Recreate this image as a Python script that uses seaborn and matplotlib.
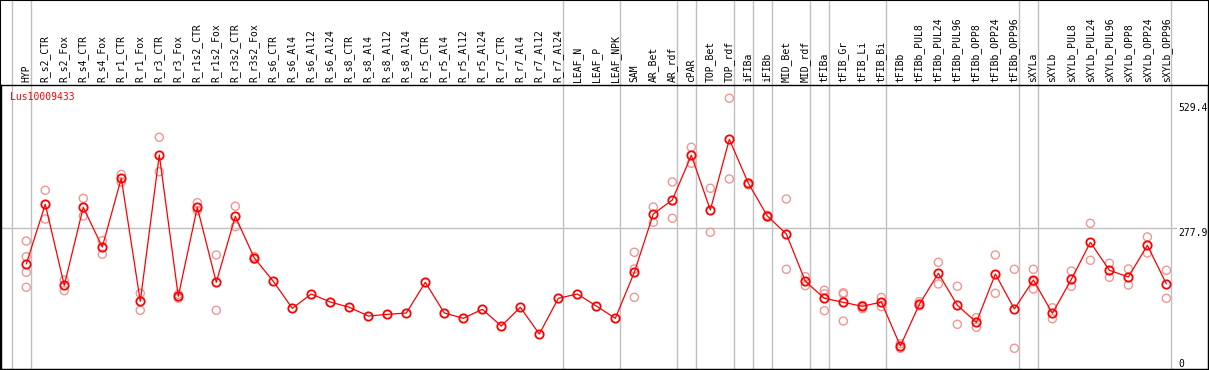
import matplotlib
matplotlib.use("Agg")
import matplotlib.pyplot as plt
from matplotlib.patches import Rectangle
from matplotlib.transforms import blended_transform_factory
import numpy as np
import pandas as pd
import seaborn as sns

gene = 'Lus10009433'

samples = ['HYP', 'R_s2_CTR', 'R_s2_Fox', 'R_s4_CTR', 'R_s4_Fox', 'R_r1_CTR', 'R_r1_Fox',
           'R_r3_CTR', 'R_r3_Fox', 'R_r1s2_CTR', 'R_r1s2_Fox', 'R_r3s2_CTR', 'R_r3s2_Fox',
           'R_s6_CTR', 'R_s6_Al4', 'R_s6_Al12', 'R_s6_Al24', 'R_s8_CTR', 'R_s8_Al4',
           'R_s8_Al12', 'R_s8_Al24', 'R_r5_CTR', 'R_r5_Al4', 'R_r5_Al12', 'R_r5_Al24',
           'R_r7_CTR', 'R_r7_Al4', 'R_r7_Al12', 'R_r7_Al24', 'LEAF_N', 'LEAF_P', 'LEAF_NPK',
           'SAM', 'AR_Bet', 'AR_rdf', 'cPAR', 'TOP_Bet', 'TOP_rdf', 'iFIBa', 'iFIBb',
           'MID_Bet', 'MID_rdf', 'tFIBa', 'tFIB_Gr', 'tFIB_Li', 'tFIB_Bi', 'tFIBb',
           'tFIBb_PUL8', 'tFIBb_PUL24', 'tFIBb_PUL96', 'tFIBb_OPP8', 'tFIBb_OPP24', 'tFIBb_OPP96',
           'sXYLa', 'sXYLb', 'sXYLb_PUL8', 'sXYLb_PUL24', 'sXYLb_PUL96', 'sXYLb_OPP8',
           'sXYLb_OPP24', 'sXYLb_OPP96']

means = [208.7, 324.2, 167.5, 318.4, 241.6, 374.5, 136.6, 419.6, 146.3, 318.4, 173.3, 301.0,
         220.3, 175.3, 123.0, 150.7, 135.2, 125.0, 108.1, 111.4, 113.9, 173.3, 113.9, 103.7,
         121.1, 88.8, 125.0, 73.3, 142.4, 150.7, 127.5, 103.7, 192.7, 305.5, 332.6, 419.0,
         313.2, 450.0, 364.9, 301.6, 266.8, 175.3, 142.4, 134.6, 126.9, 135.2, 50.1, 130.8,
         190.8, 128.8, 96.0, 189.4, 121.7, 177.8, 113.4, 179.1, 250.7, 196.6, 183.6, 244.9,
         170.1]

replicates = [
    [253.2, 222.9, 192.7, 163.7], [351.3, 295.8], [177.8, 157.1], [335.8, 301.6],
    [253.8, 227.5], [382.0, 367.0], [152.1, 119.2], [453.9, 387.3], [150.0, 142.6],
    [327.3, 311.9], [226.2, 119.2], [320.4, 280.9], [222.9, 217.8],
    [], [], [], [], [], [], [], [], [], [], [], [], [], [], [], [], [], [], [],
    [231.4, 199.1, 144.3], [319.0, 289.4], [367.4, 297.2], [434.5, 403.6],
    [355.2, 270.1], [529.4, 373.2], [365.4, 361.6], [303.0, 300.0], [334.5, 198.5],
    [184.2, 166.8], [158.0, 151.0, 118.5], [153.2, 150.7, 98.5], [128.8, 122.3],
    [144.0, 126.4], [54.5, 45.7], [135.8, 127.5], [212.0, 170.1], [165.6, 92.1],
    [104.9, 86.3], [226.2, 152.1], [198.5, 45.7], [198.5, 174.5, 160.4], [124.0, 102.8],
    [195.2, 165.6], [287.5, 215.9], [210.1, 183.0], [199.1, 168.1], [261.0, 230.0],
    [196.6, 142.4]]

# last sample of each tissue group (-1 = left edge)
group_ends = [-1, 0, 28, 31, 34, 35, 37, 38, 39, 41, 42, 45, 52, 53, 60]

df_mean = pd.DataFrame({'pos': np.arange(len(samples)), 'value': means})
rows = [(i, v) for i, reps in enumerate(replicates) for v in reps]
df_rep = pd.DataFrame(rows, columns=['pos', 'value'])

sns.set_theme(style='white')
plt.rcParams['font.family'] = ['DejaVu Sans Mono', 'DejaVu Sans']

W, H = 1209, 370
fig = plt.figure(figsize=(W / 100, H / 100), dpi=100)
ax = fig.add_axes([1 / W, 1.3 / H, 1207 / W, (H - 85 - 1.3) / H])

grid = '#c0c0c0'
top_ext = 1 + 85 / (H - 85 - 1.3)
for g in group_ends:
    ax.axvline(g + 0.23, ymin=0, ymax=top_ext, color=grid, lw=1, clip_on=False, zorder=0)
ax.axhline(277.9, xmax=(1176 - 1) / 1207, color=grid, lw=1, zorder=0)

sns.scatterplot(data=df_rep, x='pos', y='value', marker='o', s=34, facecolor='none',
                edgecolor='#f09696', linewidth=1.0, ax=ax, zorder=2)
sns.lineplot(data=df_mean, x='pos', y='value', color='red', linewidth=0.9, marker='o',
             markersize=6, markerfacecolor='none', markeredgecolor='red',
             markeredgewidth=1.3, ax=ax, zorder=3)

ax.set_xlim(-1.33, 62.19)
ax.set_ylim(6.2, 555.0)
ax.xaxis.tick_top()
ax.set_xticks(np.arange(len(samples)))
ax.set_xticklabels(samples, rotation=90, fontsize=7, color='black')
ax.tick_params(axis='x', length=0, pad=2)
ax.set_yticks([])
ax.set_xlabel('')
ax.set_ylabel('')
for s in ax.spines.values():
    s.set_color('black')
    s.set_linewidth(1)

tr = blended_transform_factory(ax.transAxes, ax.transData)
ax.text(0.0072, 542, gene, color='red', fontsize=7, ha='left', va='top', transform=tr)
for lab, yv in [('529.4', 520.0), ('277.9', 277.9), ('0', 24.4)]:
    ax.text((1178 - 1) / 1207, yv, lab, color='black', fontsize=7, ha='left', va='top',
            transform=tr)

fig.patches.append(Rectangle((0, 0), 1, 1, transform=fig.transFigure, fill=False,
                             edgecolor='black', lw=1.5))

fig.savefig('out.png', dpi=100)
